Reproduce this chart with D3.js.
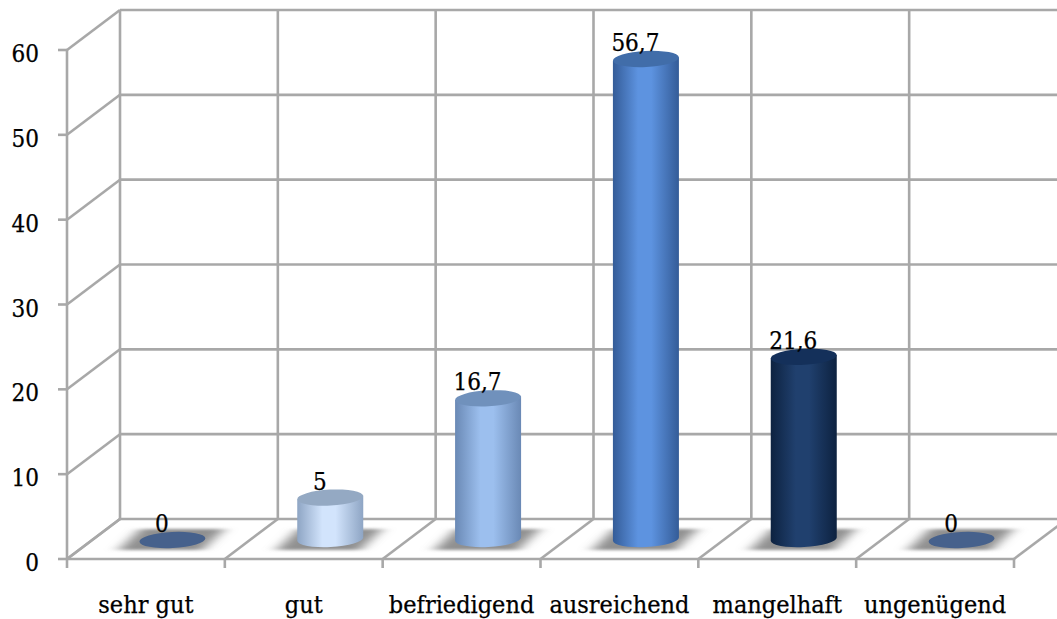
<!DOCTYPE html>
<html>
<head>
<meta charset="utf-8">
<script src="https://cdn.jsdelivr.net/npm/d3@7"></script>
<style>
html, body { margin: 0; padding: 0; background: #fff; }
svg { display: block; }
text { font-family: "DejaVu Serif Condensed", "DejaVu Serif", serif; fill: #000; stroke: #000; stroke-width: 0.25px; }
</style>
</head>
<body>
<svg id="chart" width="1057" height="619"></svg>
<script>
var categories = ["sehr gut", "gut", "befriedigend", "ausreichend", "mangelhaft", "ungenügend"];
var values = [0, 5, 16.7, 56.7, 21.6, 0];
var valueLabels = ["0", "5", "16,7", "56,7", "21,6", "0"];
var yTicks = [0, 10, 20, 30, 40, 50, 60];
var bodyEdge = ["#46618c", "#8ea5c4", "#6a89b5", "#345c98", "#0d2240", "#46618c"];
var bodyMid = ["#46618c", "#d2e4fc", "#9cbfee", "#5d93e0", "#20406e", "#46618c"];
var topColor = ["#46618c", "#94a9c3", "#7091bc", "#416da9", "#14305a", "#46618c"];

var svg = d3.select("#chart");

// chart box, the back wall is shifted from the front edge by depth
var left = 67, right = 1014, floorY = 559, topY = 50;
var depthX = 53, depthY = 40;

var x = d3.scaleBand().domain(categories).range([left, right]);
var y = d3.scaleLinear().domain([0, 60]).range([floorY, topY]);

var edges = d3.range(categories.length + 1).map(function(i) {
    return left + i * x.step();
});

var gridColor = "#a8a8a8";
var grid = svg.append("g")
    .attr("fill", "none")
    .attr("stroke", gridColor)
    .attr("stroke-width", 2.6);

// back wall horizontals and left wall diagonals
yTicks.forEach(function(t) {
    grid.append("line")
        .attr("x1", left + depthX).attr("x2", 1057)
        .attr("y1", y(t) - depthY).attr("y2", y(t) - depthY);
    grid.append("line")
        .attr("x1", left).attr("x2", left + depthX)
        .attr("y1", y(t)).attr("y2", y(t) - depthY);
    grid.append("line")
        .attr("x1", left - 9).attr("x2", left)
        .attr("y1", y(t)).attr("y2", y(t));
});

// left axis, back wall verticals, floor lines
grid.append("line")
    .attr("x1", left).attr("x2", left)
    .attr("y1", floorY).attr("y2", topY);
grid.append("line")
    .attr("x1", left).attr("x2", right)
    .attr("y1", floorY).attr("y2", floorY);

edges.forEach(function(e) {
    grid.append("line")
        .attr("x1", e + depthX).attr("x2", e + depthX)
        .attr("y1", floorY - depthY).attr("y2", y(60) - depthY);
    grid.append("line")
        .attr("x1", e).attr("x2", e + depthX)
        .attr("y1", floorY).attr("y2", floorY - depthY);
    grid.append("line")
        .attr("x1", e).attr("x2", e)
        .attr("y1", floorY).attr("y2", floorY + 9);
});

var defs = svg.append("defs");

var shadowBlur = defs.append("filter")
    .attr("id", "shadowBlur")
    .attr("x", "-30%").attr("width", "160%")
    .attr("y", "-30%").attr("height", "160%");
shadowBlur.append("feGaussianBlur").attr("stdDeviation", "7 1.5");

categories.forEach(function(c, i) {
    var g = defs.append("linearGradient").attr("id", "body" + i);
    g.append("stop").attr("offset", "0%").attr("stop-color", bodyEdge[i]);
    g.append("stop").attr("offset", "38%").attr("stop-color", bodyMid[i]);
    g.append("stop").attr("offset", "58%").attr("stop-color", bodyMid[i]);
    g.append("stop").attr("offset", "100%").attr("stop-color", bodyEdge[i]);
});

var rx = 33, ry = 8, tilt = -3;
var dy = rx * Math.sin(-tilt * Math.PI / 180);
var baseY = floorY - depthY / 2;

function centerX(d) {
    return x(d) + x.bandwidth() / 2 + depthX / 2;
}
function topOf(i) {
    return y(values[i]) - depthY / 2 + 1;
}

// floor shadows
svg.append("g").selectAll("path")
    .data(categories)
    .enter()
    .append("path")
    .attr("d", function(d) {
        var c = centerX(d);
        return "M" + (c - 54) + "," + (baseY + 11) +
            "L" + (c + 30) + "," + (baseY + 11) +
            "L" + (c + 52) + "," + (baseY - 10) +
            "L" + (c - 32) + "," + (baseY - 10) + "Z";
    })
    .attr("fill", "#909090")
    .attr("filter", "url(#shadowBlur)");

// cylinder bodies
svg.append("g").selectAll("path")
    .data(categories)
    .enter()
    .filter(function(d, i) { return values[i] > 0; })
    .append("path")
    .attr("d", function(d) {
        var i = categories.indexOf(d);
        var c = centerX(d), t = topOf(i);
        return "M" + (c - rx) + "," + (t + dy) +
            "L" + (c - rx) + "," + (baseY + dy) +
            "A" + rx + "," + ry + "," + tilt + ",0,0," + (c + rx) + "," + (baseY - dy) +
            "L" + (c + rx) + "," + (t - dy) + "Z";
    })
    .attr("fill", function(d) { return "url(#body" + categories.indexOf(d) + ")"; });

// cylinder tops
svg.append("g").selectAll("ellipse")
    .data(categories)
    .enter()
    .append("ellipse")
    .attr("rx", rx)
    .attr("ry", ry)
    .attr("transform", function(d, i) {
        return "translate(" + centerX(d) + "," + topOf(i) + ") rotate(" + tilt + ")";
    })
    .attr("fill", function(d, i) { return topColor[i]; });

// value labels
svg.append("g").selectAll("text")
    .data(valueLabels)
    .enter()
    .append("text")
    .attr("x", function(d, i) { return centerX(categories[i]) - 10.5; })
    .attr("y", function(d, i) { return topOf(i) - 8; })
    .attr("text-anchor", "middle")
    .style("font-size", "24px")
    .text(function(d) { return d; });

// y tick labels
svg.append("g").selectAll("text")
    .data(yTicks)
    .enter()
    .append("text")
    .attr("x", 39)
    .attr("y", function(d) { return y(d) + 12; })
    .attr("text-anchor", "end")
    .style("font-size", "24px")
    .text(function(d) { return d; });

// category labels
svg.append("g").selectAll("text")
    .data(categories)
    .enter()
    .append("text")
    .attr("x", function(d) { return x(d) + x.bandwidth() / 2; })
    .attr("y", 613)
    .attr("text-anchor", "middle")
    .style("font-size", "25px")
    .text(function(d) { return d; });
</script>
</body>
</html>
